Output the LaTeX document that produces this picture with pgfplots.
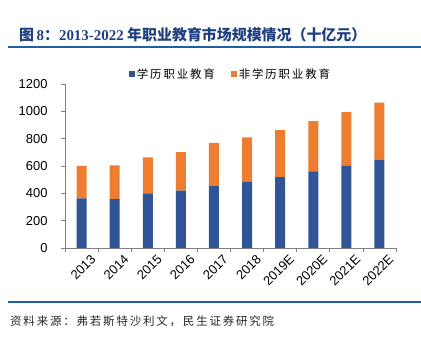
\documentclass[border=0pt]{standalone}
\usepackage{fontspec}
\setmainfont{Liberation Sans}
\newfontfamily\cjk{Noto Sans CJK SC}
\newfontfamily\cjksp{Noto Sans CJK SC}[LetterSpace=16]
\newfontfamily\serifb{Liberation Serif}
\usepackage{pgfplots}
\pgfplotsset{compat=1.18}
\definecolor{cblue}{HTML}{2F5597}
\definecolor{corange}{HTML}{ED7D31}
\definecolor{ctitle}{HTML}{1F3F7F}
\definecolor{cline}{HTML}{1F5FA8}
\definecolor{caxis}{HTML}{808080}
\begin{document}
\begin{tikzpicture}[x=1bp,y=1bp]
\path[use as bounding box] (0,0) rectangle (421,341);
% title
\node[anchor=west, inner sep=0pt, text=ctitle, font=\fontsize{15}{17}\selectfont\bfseries] at (19,306)
  {\cjk 图\,{\serifb\bfseries 8}：{\serifb\bfseries 2013-2022} 年职业教育市场规模情况（十亿元）};
\draw[cline, line width=2bp] (8,294) -- (421,294);
\draw[cline, line width=2bp] (8,39) -- (421,39);
\node[anchor=west, inner sep=0pt, text=black!85, font=\fontsize{11.5}{13}\selectfont] at (10,20)
  {\cjksp 资料来源：弗若斯特沙利文，民生证券研究院};
\begin{axis}[
  at={(65bp,93bp)}, anchor=south west,
  scale only axis, width=331bp, height=164bp,
  xmin=-0.5, xmax=9.5, ymin=0, ymax=1200,
  ybar stacked, bar width=10bp,
  axis x line*=bottom, axis y line*=left,
  axis line style={caxis, line width=0.8bp},
  tick style={caxis, line width=0.8bp},
  tick align=outside, major tick length=4bp,
  ytick={0,200,...,1200},
  xtick={-0.5,0.5,...,9.5}, xticklabels={},
  extra x ticks={0,1,2,3,4,5,6,7,8,9},
  extra x tick labels={2013,2014,2015,2016,2017,2018,2019E,2020E,2021E,2022E},
  extra x tick style={major tick length=0pt},
  xticklabel style={rotate=45, anchor=north east, inner sep=0bp, yshift=-10bp, xshift=2bp},
  tick label style={font=\fontsize{13}{15}\selectfont, text=black},
  yticklabel style={xshift=-10bp},
  /pgf/number format/assume math mode=true,
  /pgf/number format/1000 sep={},
  legend style={at={(0.5,1)}, anchor=south, yshift=2bp, draw=none, fill=none,
    legend columns=2, inner sep=0pt,
    font=\fontsize{11.5}{13}\selectfont,
    /tikz/every even column/.append style={column sep=14bp}},
  legend image code/.code={\fill[#1] (0bp,-3bp) rectangle (6bp,3bp);},
  clip=false,
]
\addplot+[fill=cblue, draw=none] coordinates {(0,364) (1,358) (2,400) (3,419) (4,456) (5,483) (6,519) (7,561) (8,600) (9,646)};
\addlegendentry{\cjksp 学历职业教育}
\addplot+[fill=corange, draw=none] coordinates {(0,236) (1,247) (2,263) (3,283) (4,314) (5,327) (6,344) (7,368) (8,395) (9,417)};
\addlegendentry{\cjksp 非学历职业教育}
\end{axis}
\end{tikzpicture}
\end{document}
